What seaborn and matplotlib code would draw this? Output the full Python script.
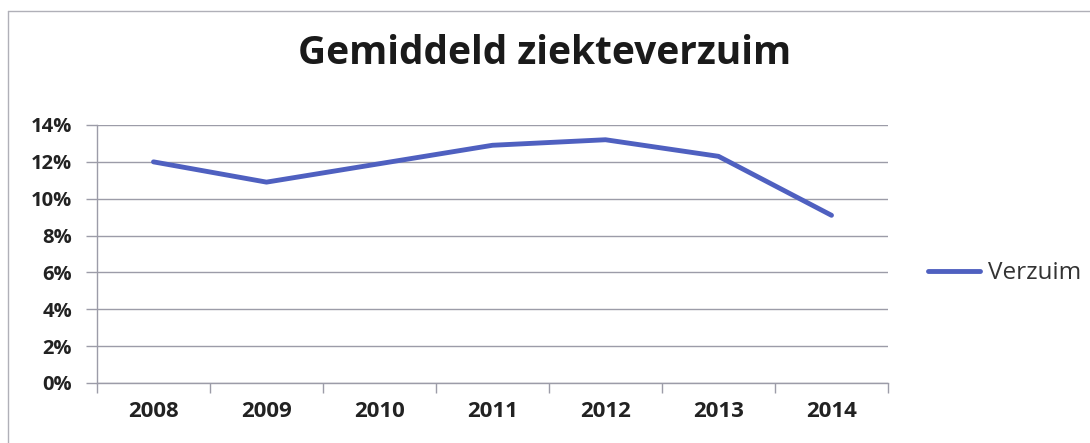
import matplotlib
matplotlib.use("Agg")
import matplotlib.pyplot as plt
import seaborn as sns
import pandas as pd
from matplotlib.lines import Line2D
from matplotlib.ticker import FuncFormatter, FixedLocator

years = ["2008", "2009", "2010", "2011", "2012", "2013", "2014"]
verzuim = [0.120, 0.109, 0.119, 0.129, 0.132, 0.123, 0.091]
series_name = "Verzuim"
title = "Gemiddeld ziekteverzuim"

sns.set_theme(style="white")
plt.rcParams["font.family"] = ["Open Sans", "DejaVu Sans"]

df = pd.DataFrame({"Jaar": years, "Waarde": verzuim, "Reeks": series_name})

W, H = 1090, 443
fig = plt.figure(figsize=(W / 100, H / 100), dpi=100)
ax = fig.add_axes([97 / W, 1 - 383 / H, (888 - 97) / W, (383 - 125) / H])

line_color = "#4F60C0"
grid_color = "#9C9CA8"

sns.lineplot(data=df, x="Jaar", y="Waarde", hue="Reeks", palette=[line_color],
             linewidth=3.5, ax=ax, sort=False)

ax.set_xlim(-0.5, len(years) - 0.5)
ax.set_ylim(0, 0.14)
ax.yaxis.set_major_locator(FixedLocator([i / 100 for i in range(0, 15, 2)]))
ax.yaxis.set_major_formatter(FuncFormatter(lambda v, p: f"{v*100:.0f}%"))
ax.set_xlabel("")
ax.set_ylabel("")

ax.grid(axis="y", color=grid_color, linewidth=1.0)
ax.grid(axis="x", visible=False)
for s in ["top", "right"]:
    ax.spines[s].set_visible(False)
for s in ["left", "bottom"]:
    ax.spines[s].set_color(grid_color)
    ax.spines[s].set_linewidth(1.0)

ax.set_xticks(range(len(years)))
ax.set_xticklabels(years)
ax.xaxis.set_minor_locator(FixedLocator([i - 0.5 for i in range(len(years) + 1)]))
ax.tick_params(axis="x", which="major", length=0, pad=13, labelsize=16, labelcolor="#222222")
ax.tick_params(axis="x", which="minor", bottom=True, length=7, width=1, color=grid_color, direction="out")
ax.tick_params(axis="y", which="major", left=True, length=8, width=1, color=grid_color,
               pad=10, labelsize=14.5, labelcolor="#222222")
for lab in ax.get_xticklabels() + ax.get_yticklabels():
    lab.set_fontweight("bold")

leg = ax.legend(handles=[Line2D([0], [0], color=line_color, linewidth=3.5)],
                labels=[series_name], loc="center left", bbox_to_anchor=(1.0228, 0.425),
                frameon=False, fontsize=17.5, handlelength=2.14, handletextpad=0.33)
for t in leg.get_texts():
    t.set_color("#333333")

fig.text(0.5, 1 - 64 / H, title, ha="center", va="baseline", fontsize=28,
         fontweight="bold", color="#1a1a1a")

fig.add_artist(Line2D([8 / W, 1.0], [1 - 11 / H, 1 - 11 / H], color="#B0B0B8", linewidth=1.0))
fig.add_artist(Line2D([8 / W, 8 / W], [0, 1 - 11 / H], color="#B0B0B8", linewidth=1.0))

fig.savefig("out.png", dpi=100, facecolor="white")
